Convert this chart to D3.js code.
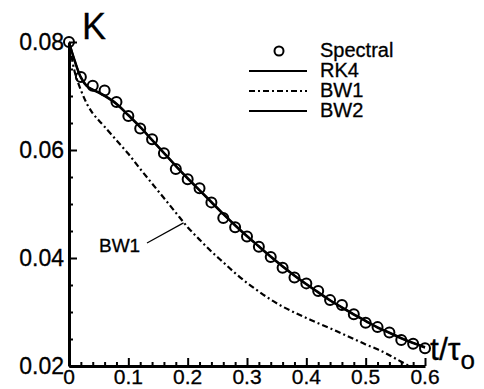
<!DOCTYPE html>
<html><head><meta charset="utf-8">
<script src="https://cdn.jsdelivr.net/npm/d3@7"></script>
<style>
body{margin:0;background:#fff;}
text{font-family:"Liberation Sans",Arial,Helvetica,sans-serif;fill:#000;stroke:#000;stroke-width:0.3px;}
</style></head>
<body>
<svg id="c" width="484" height="389"></svg>
<script>
// ---- data ----
const spectralT = [0,0.02,0.04,0.06,0.08,0.10,0.12,0.14,0.16,0.18,0.20,0.22,0.24,0.26,0.28,0.30,0.32,0.34,0.36,0.38,0.40,0.42,0.44,0.46,0.48,0.50,0.52,0.54,0.56,0.58,0.60];
const spectralK = [0.0800,0.0735,0.0719,0.0710,0.0689,0.0663,0.0640,0.0620,0.0594,0.0565,0.0546,0.0529,0.0503,0.0474,0.0457,0.0440,0.0421,0.0402,0.0382,0.0364,0.0353,0.0339,0.0322,0.0313,0.0296,0.0280,0.0272,0.0262,0.0248,0.0241,0.0233];
const lineT = [0,0.01,0.02,0.03,0.04,0.05,0.06,0.08,0.10,0.12,0.14,0.16,0.18,0.20,0.22,0.24,0.26,0.28,0.30,0.32,0.34,0.36,0.38,0.40,0.42,0.44,0.46,0.48,0.50,0.52,0.54,0.56,0.58,0.60];
const rk4K = [0.0800,0.0765,0.0735,0.0719,0.0712,0.0707,0.0701,0.0686,0.0665,0.0643,0.0619,0.0595,0.0571,0.0548,0.0526,0.0504,0.0482,0.0461,0.0441,0.0422,0.0403,0.0385,0.0368,0.0352,0.0337,0.0322,0.0309,0.0296,0.0284,0.0272,0.0262,0.0252,0.0243,0.0235];
const bw2K = [0.0800,0.0763,0.0734,0.0718,0.0711,0.0706,0.0700,0.0685,0.0664,0.0642,0.0618,0.0594,0.0570,0.0547,0.0525,0.0503,0.0481,0.0460,0.0440,0.0421,0.0402,0.0384,0.0367,0.0351,0.0336,0.0321,0.0308,0.0295,0.0283,0.0271,0.0261,0.0251,0.0242,0.0234];
const bw1K = [0.0800,0.0743,0.0711,0.0686,0.0668,0.0655,0.0643,0.0618,0.0593,0.0565,0.0538,0.0511,0.0484,0.0457,0.0434,0.0412,0.0392,0.0372,0.0354,0.0338,0.0323,0.0310,0.0299,0.0289,0.0279,0.0270,0.0260,0.0250,0.0240,0.0231,0.0220,0.0208,0.0196,0.0185];
const xTicks = [0,0.1,0.2,0.3,0.4,0.5,0.6];
const xTickLabels = ["0","0.1","0.2","0.3","0.4","0.5","0.6"];
const yTicks = [0.02,0.04,0.06,0.08];
const yTickLabels = ["0.02","0.04","0.06","0.08"];
const legendNames = ["Spectral","RK4","BW1","BW2"];

// ---- scales ----
const svg = d3.select("#c");
const x = d3.scaleLinear().domain([0,0.6]).range([69,425]);
const y = d3.scaleLinear().domain([0.02,0.08]).range([366,42]);

svg.append("defs").append("clipPath").attr("id","clip")
  .append("rect").attr("x",69).attr("y",30).attr("width",380).attr("height",336);

// minor ticks
const xMinor = d3.range(0,0.6001,0.02).filter(v=>Math.abs(v*10-Math.round(v*10))>1e-6);
const yMinor = d3.range(0.02,0.0801,0.005).filter(v=>Math.abs(v*50-Math.round(v*50))>1e-6);

svg.append("g").attr("transform","translate(0,366)")
  .call(d3.axisTop(x).tickValues(xTicks).tickFormat("").tickSize(8).tickSizeOuter(0));
svg.append("g").attr("transform","translate(0,366)")
  .call(d3.axisTop(x).tickValues(xMinor).tickFormat("").tickSize(4).tickSizeOuter(0))
  .select(".domain").remove();
svg.append("g").attr("transform","translate(69,0)")
  .call(d3.axisRight(y).tickValues(yTicks).tickFormat("").tickSize(8).tickSizeOuter(0));
svg.append("g").attr("transform","translate(69,0)")
  .call(d3.axisRight(y).tickValues(yMinor).tickFormat("").tickSize(4).tickSizeOuter(0))
  .select(".domain").remove();
svg.selectAll(".domain").attr("stroke","#000").attr("stroke-width",3);
svg.selectAll(".tick line").attr("stroke","#000").attr("stroke-width",2);

// tick labels
svg.append("g").selectAll("text").data(xTicks).join("text")
  .attr("x",d=>x(d)).attr("y",384).attr("text-anchor","middle")
  .style("font-size","21px").text((d,i)=>xTickLabels[i]);
svg.append("g").selectAll("text").data(yTicks).join("text")
  .attr("x",64).attr("y",d=>y(d)+8).attr("text-anchor","end")
  .style("font-size","23px").text((d,i)=>yTickLabels[i]);

// axis titles
svg.append("text").attr("x",82).attr("y",39).style("font-size","36px").text("K");
const xt = svg.append("text").attr("x",430).attr("y",360).style("font-size","32px");
xt.append("tspan").text("t/τ");
xt.append("tspan").attr("dy",9).style("font-size","26px").text("o");

// lines
const g = svg.append("g").attr("clip-path","url(#clip)");
const line = d3.line().x(d=>x(d[0])).y(d=>y(d[1])).curve(d3.curveCatmullRom);
const mk = arr => lineT.map((t,i)=>[t,arr[i]]);
g.append("path").attr("d",line(mk(bw1K))).attr("fill","none").attr("stroke","#000")
  .attr("stroke-width",2.2).attr("stroke-dasharray","6,3,2,3");
g.append("path").attr("d",line(mk(rk4K))).attr("fill","none").attr("stroke","#000").attr("stroke-width",2.2);
g.append("path").attr("d",line(mk(bw2K))).attr("fill","none").attr("stroke","#000").attr("stroke-width",2.2);

// spectral circles
svg.append("g").selectAll("circle").data(spectralT).join("circle")
  .attr("cx",d=>x(d)).attr("cy",(d,i)=>y(spectralK[i])).attr("r",5)
  .attr("fill","none").attr("stroke","#000").attr("stroke-width",2);

// BW1 annotation
svg.append("text").attr("x",99).attr("y",252).style("font-size","19px").text("BW1");
svg.append("line").attr("x1",147).attr("y1",243).attr("x2",x(0.193)).attr("y2",y(0.0465))
  .attr("stroke","#000").attr("stroke-width",1.2);

// legend
const lg = svg.append("g");
lg.append("circle").attr("cx",279).attr("cy",51).attr("r",4.5).attr("fill","none").attr("stroke","#000").attr("stroke-width",2);
const lys = [51,71,91,111];
const dashes = [null,null,"6,3,2,3",null];
[1,2,3].forEach(i=>{
  lg.append("line").attr("x1",249).attr("x2",307).attr("y1",lys[i]).attr("y2",lys[i])
    .attr("stroke","#000").attr("stroke-width",2.2).attr("stroke-dasharray",dashes[i]);
});
lg.selectAll("text").data(legendNames).join("text")
  .attr("x",320).attr("y",(d,i)=>lys[i]+6).style("font-size","20px").text(d=>d);
</script>
</body></html>
